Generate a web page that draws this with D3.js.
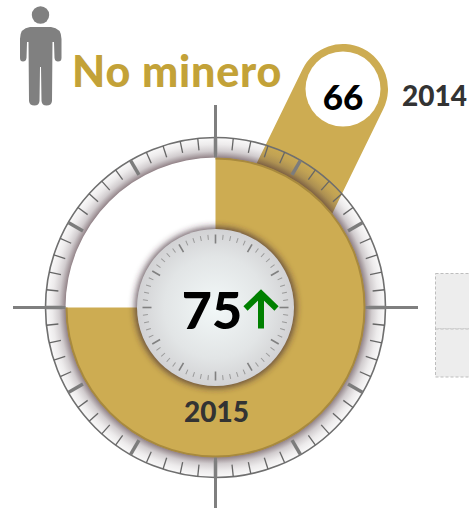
<!DOCTYPE html>
<html>
<head>
<meta charset="utf-8">
<script src="https://cdn.jsdelivr.net/npm/d3@7"></script>
<style>
  html, body { margin: 0; padding: 0; background: #fff; overflow: hidden; }
  text { font-family: Lato, "Open Sans", sans-serif; font-weight: 900; }
</style>
</head>
<body>
<div id="chart"></div>
<script>
// chart data
var title = "No minero";
var years = ["2014", "2015"];
var values = [66, 75];
var maxValue = 100;
var tickCount = 60;
var boxRows = ["top", "bottom"];

var svgWidth = 469;
var svgHeight = 508;
var cx = 215.5;
var cy = 307.5;

var gold = "#cdac52";

var svg = d3.select("#chart")
    .append("svg")
    .attr("width", svgWidth)
    .attr("height", svgHeight);

var defs = svg.append("defs");

// shading on the outer band, see through at the rim and dark at the inside
// gradient is used inside the translated group, so it is centred on 0,0
var bandGrad = defs.append("radialGradient")
    .attr("id", "bandGrad")
    .attr("gradientUnits", "userSpaceOnUse")
    .attr("cx", 0).attr("cy", 0).attr("r", 170);
bandGrad.append("stop").attr("offset", 0.882).attr("stop-color", "#4a3038").attr("stop-opacity", 0.6);
bandGrad.append("stop").attr("offset", 0.92).attr("stop-color", "#5a4850").attr("stop-opacity", 0.28);
bandGrad.append("stop").attr("offset", 0.96).attr("stop-color", "#6a5a60").attr("stop-opacity", 0.12);
bandGrad.append("stop").attr("offset", 1).attr("stop-color", "#6a5a60").attr("stop-opacity", 0.03);

var dialGrad = defs.append("radialGradient").attr("id", "dialGrad");
dialGrad.append("stop").attr("offset", 0).attr("stop-color", "#f2f8f8");
dialGrad.append("stop").attr("offset", 0.65).attr("stop-color", "#e2e5e6");
dialGrad.append("stop").attr("offset", 1).attr("stop-color", "#d2d2d4");

defs.append("filter")
    .attr("id", "dialShadow")
    .attr("x", "-20%").attr("y", "-20%").attr("width", "140%").attr("height", "140%")
    .append("feGaussianBlur")
    .attr("stdDeviation", 3);

var angle = d3.scaleLinear()
    .domain([0, maxValue])
    .range([0, 2 * Math.PI]);

var tickValues = d3.range(tickCount).map(function(i) { return i * maxValue / tickCount; });

var dial = svg.append("g")
    .attr("transform", "translate(" + cx + "," + cy + ")");

// callout behind the dial, holds last year's value
var pinAngle = 26 * Math.PI / 180;
var pinHead = { x: 127.5, y: -218.5 };
var pinRadius = 45;
var pinLength = 125;
var nx = Math.cos(pinAngle) * pinRadius;
var ny = Math.sin(pinAngle) * pinRadius;
var dx = -Math.sin(pinAngle) * pinLength;
var dy = Math.cos(pinAngle) * pinLength;

dial.append("path")
    .attr("d", "M" + (pinHead.x - nx) + "," + (pinHead.y - ny) +
        "A" + pinRadius + "," + pinRadius + " 0 1 1 " + (pinHead.x + nx) + "," + (pinHead.y + ny) +
        "L" + (pinHead.x + nx + dx) + "," + (pinHead.y + ny + dy) +
        "L" + (pinHead.x - nx + dx) + "," + (pinHead.y - ny + dy) + "Z")
    .attr("fill", gold);

dial.append("circle")
    .attr("cx", pinHead.x)
    .attr("cy", pinHead.y)
    .attr("r", 37.5)
    .attr("fill", "#fff");

// value arc
var valueArc = d3.arc()
    .innerRadius(0)
    .outerRadius(150)
    .startAngle(0)
    .endAngle(angle(values[1]));

dial.append("path")
    .attr("d", valueArc())
    .attr("fill", gold);

var edgeArc = d3.arc()
    .innerRadius(148)
    .outerRadius(150)
    .startAngle(0)
    .endAngle(angle(values[1]));

dial.append("path")
    .attr("d", edgeArc())
    .attr("fill", "#a88a3e");

// outer band
dial.append("path")
    .attr("d", d3.arc().innerRadius(150).outerRadius(170).startAngle(0).endAngle(2 * Math.PI)())
    .attr("fill", "url(#bandGrad)");

dial.append("circle")
    .attr("r", 170)
    .attr("fill", "none")
    .attr("stroke", "#6f6f6f")
    .attr("stroke-width", 1.6);

function drawTicks(group, rOuter, minorLen, majorLen, minorWidth, majorWidth, minorColor, majorColor) {
    group.selectAll("line")
        .data(tickValues)
        .enter()
        .append("line")
        .attr("transform", function(d) { return "rotate(" + (angle(d) * 180 / Math.PI) + ")"; })
        .attr("y1", -rOuter)
        .attr("y2", function(d, i) { return -rOuter + (i % 5 === 0 ? majorLen : minorLen); })
        .attr("stroke", function(d, i) { return i % 5 === 0 ? majorColor : minorColor; })
        .attr("stroke-width", function(d, i) { return i % 5 === 0 ? majorWidth : minorWidth; });
}

drawTicks(dial.append("g"), 170, 12, 17, 1.3, 3.5, "#666", "#7c7c7c");

// cross hair
dial.append("g")
    .selectAll("line")
    .data([0, 25, 50, 75])
    .enter()
    .append("line")
    .attr("transform", function(d) { return "rotate(" + (angle(d) * 180 / Math.PI) + ")"; })
    .attr("y1", -202.5)
    .attr("y2", -150)
    .attr("stroke", "#7f7f7f")
    .attr("stroke-width", 3);

// centre dial
dial.append("circle")
    .attr("r", 81)
    .attr("fill", "#3e2a34")
    .attr("fill-opacity", 0.7)
    .attr("filter", "url(#dialShadow)");

dial.append("circle")
    .attr("r", 78.5)
    .attr("fill", "url(#dialGrad)");

drawTicks(dial.append("g"), 73, 5, 9, 1, 1.6, "#999", "#808080");

dial.append("text")
    .attr("x", -3.5)
    .attr("y", 21)
    .attr("text-anchor", "middle")
    .attr("font-size", 52)
    .attr("fill", "#000")
    .text(values[1]);

// up arrow
var arrow = d3.line();
dial.append("path")
    .attr("d", arrow([[45.5, 21], [45.5, -14]]) + arrow([[30, 1], [45.5, -14], [61, 1]]))
    .attr("fill", "none")
    .attr("stroke", "#008000")
    .attr("stroke-width", 6);

dial.append("text")
    .attr("x", 1)
    .attr("y", 114.5)
    .attr("text-anchor", "middle")
    .attr("font-size", 28)
    .attr("fill", "#333")
    .text(years[1]);

// callout labels
svg.append("text")
    .attr("x", 343)
    .attr("y", 110)
    .attr("text-anchor", "middle")
    .attr("font-size", 35)
    .attr("fill", "#000")
    .text(values[0]);

svg.append("text")
    .attr("x", 402)
    .attr("y", 106)
    .attr("font-size", 28)
    .attr("fill", "#333")
    .text(years[0]);

svg.append("text")
    .attr("x", 72)
    .attr("y", 87)
    .attr("font-size", 43)
    .attr("letter-spacing", 0.8)
    .attr("fill", "#c3a238")
    .text(title);

// person icon
var person = svg.append("g").attr("fill", "#808080");

person.append("circle")
    .attr("cx", 40.5)
    .attr("cy", 15)
    .attr("r", 8.7);

person.append("path")
    .attr("d", "M30,27 L51,27 Q61.5,28 61.5,39 L61.5,58 Q61.5,61.5 58,61.5 Q55,61.5 54.5,58 L54,42 L52.5,42 " +
        "L52,101 Q51.5,105.5 46.5,105.5 Q42,105.5 41.5,101 L41,67 L40,67 L39.5,101 Q39,105.5 34.5,105.5 " +
        "Q29.5,105.5 29,101 L28.5,42 L27,42 L26.5,58 Q26,61.5 23,61.5 Q20,61.5 20,58 L20,39 Q20,28 30,27 Z");

// dashed boxes on the right edge
svg.append("g")
    .selectAll("rect")
    .data(boxRows)
    .enter()
    .append("rect")
    .attr("x", 435.5)
    .attr("y", function(d, i) { return 273.5 + i * 55.5; })
    .attr("width", 50)
    .attr("height", function(d, i) { return i === 0 ? 55.5 : 48; })
    .attr("fill", "#ededed")
    .attr("stroke", "#bdbdbd")
    .attr("stroke-width", 1)
    .attr("stroke-dasharray", "3,2");
</script>
</body>
</html>
